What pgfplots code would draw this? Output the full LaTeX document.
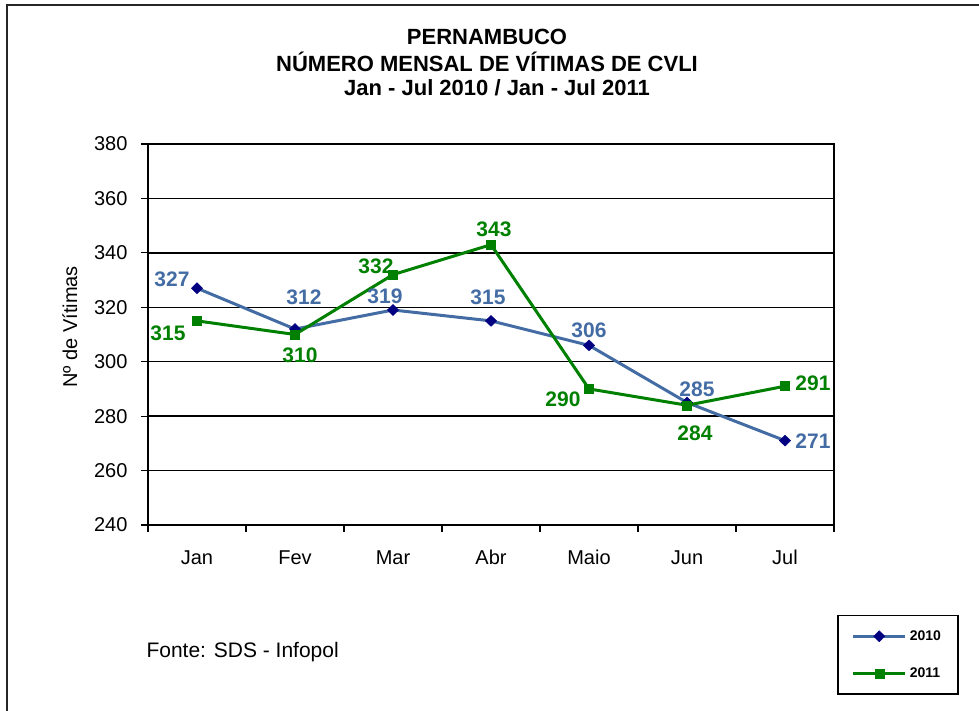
\documentclass[border=0pt]{standalone}
\usepackage{pgfplots}
\pgfplotsset{compat=1.18}
\usepackage{fontspec}
\setmainfont{Liberation Sans}
\definecolor{blue10}{RGB}{68,108,164}
\definecolor{navy10}{RGB}{0,0,128}
\definecolor{green11}{RGB}{0,128,0}
\begin{document}
\begin{tikzpicture}[x=1pt,y=1pt]
\path[use as bounding box] (0,0) rectangle (979,711);
\draw[line width=2pt, black!85] (7,0) -- (7,706) -- (979,706);
\node[font=\bfseries\fontsize{22}{25}\selectfont] at (487,674) {PERNAMBUCO};
\node[font=\bfseries\fontsize{22}{25}\selectfont] at (487,649) {NÚMERO MENSAL DE VÍTIMAS DE CVLI};
\node[font=\bfseries\fontsize{22}{25}\selectfont] at (497,623) {Jan - Jul 2010 / Jan - Jul 2011};
\node[font=\fontsize{21}{24}\selectfont, anchor=west] at (143,59) {Fonte: SDS - Infopol};
\begin{axis}[
  at={(148pt,186pt)}, anchor=south west,
  scale only axis, width=686pt, height=381pt,
  xmin=-0.5, xmax=6.5, ymin=240, ymax=380,
  ytick={240,260,...,380},
  xtick={-0.5,0.5,...,6.5}, xticklabels={},
  extra x ticks={0,1,2,3,4,5,6},
  extra x tick labels={Jan,Fev,Mar,Abr,Maio,Jun,Jul},
  extra x tick style={major tick length=0pt, grid=none, tick style={draw=none},
     xticklabel style={yshift=-22pt, text height=14pt, text depth=4pt}},
  xtick pos=bottom, ytick pos=left,
  ymajorgrids, grid style={black, line width=1.3pt},
  axis line style={black, line width=1.6pt},
  tick style={black, line width=1.2pt},
  tick align=outside, major tick length=7pt,
  tick label style={font=\fontsize{20}{24}\selectfont},
  yticklabel style={xshift=-10pt},
  /pgf/number format/assume math mode=true,
  ylabel={Nº de Vítimas},
  every axis y label/.style={at={(axis description cs:-0.114,0.52)}, rotate=90, anchor=center, font=\fontsize{20}{24}\selectfont},
  clip=false,
  legend style={at={(1.0044,-0.236)}, anchor=north west, draw=black, line width=1.5pt,
     font=\bfseries\fontsize{14}{16}\selectfont, inner xsep=14pt, inner ysep=12pt, row sep=20pt,
     nodes={inner sep=3pt}},
  legend cell align=left,
  legend image code/.code={\draw[mark repeat=2,mark phase=2,#1] plot coordinates {(0pt,0pt) (26pt,0pt) (52pt,0pt)};},
]
\addplot[blue10, line width=3pt, mark=diamond*, mark size=5.5pt, mark options={fill=navy10, draw=navy10, line width=0.5pt, xscale=1.35}]
  coordinates {(0,327) (1,312) (2,319) (3,315) (4,306) (5,285) (6,271)};
\addlegendentry{2010}
\addplot[green11, line width=3pt, mark=square*, mark size=4.5pt, mark options={fill=green11, draw=green11, line width=0.5pt}]
  coordinates {(0,315) (1,310) (2,332) (3,343) (4,290) (5,284) (6,291)};
\addlegendentry{2011}
\begin{scope}[font=\bfseries\fontsize{21}{24}\selectfont]
\node[text=blue10, shift={(-25pt,9pt)}] at (axis cs:0,327) {327};
\node[text=blue10, shift={(9pt,32pt)}] at (axis cs:1,312) {312};
\node[text=blue10, shift={(-8pt,14pt)}] at (axis cs:2,319) {319};
\node[text=blue10, shift={(-3pt,24pt)}] at (axis cs:3,315) {315};
\node[text=blue10, shift={(0pt,15pt)}] at (axis cs:4,306) {306};
\node[text=blue10, shift={(10pt,13pt)}] at (axis cs:5,285) {285};
\node[text=blue10, shift={(28pt,-1pt)}] at (axis cs:6,271) {271};
\node[text=green11, shift={(-29pt,-12pt)}] at (axis cs:0,315) {315};
\node[text=green11, shift={(5pt,-21pt)}] at (axis cs:1,310) {310};
\node[text=green11, shift={(-17pt,8pt)}] at (axis cs:2,332) {332};
\node[text=green11, shift={(3pt,15pt)}] at (axis cs:3,343) {343};
\node[text=green11, shift={(-26pt,-10pt)}] at (axis cs:4,290) {290};
\node[text=green11, shift={(8pt,-28pt)}] at (axis cs:5,284) {284};
\node[text=green11, shift={(28pt,3pt)}] at (axis cs:6,291) {291};
\end{scope}
\end{axis}
\end{tikzpicture}
\end{document}
